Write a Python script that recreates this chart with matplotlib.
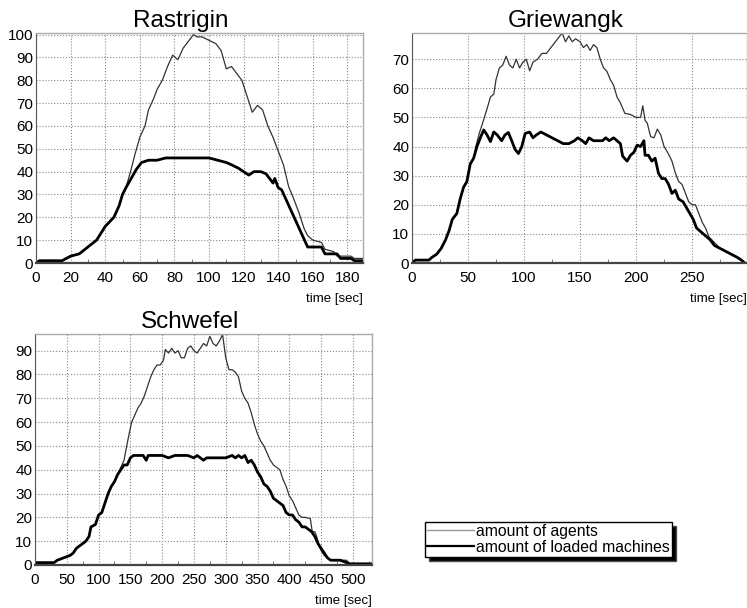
import matplotlib
matplotlib.use('Agg')
import matplotlib.pyplot as plt
from matplotlib.ticker import MultipleLocator

plt.rcParams['font.family'] = ['Liberation Sans', 'DejaVu Sans']

# Rastrigin
ras_t_agents = [0, 2, 15, 20, 25, 30, 35, 40, 45, 48, 50, 52, 55, 57, 60, 63, 65, 68, 70, 73,
                76, 79, 82, 85, 88, 91, 93, 96, 100, 104, 107, 110, 113, 116, 119, 122, 125,
                128, 131, 134, 137, 140, 143, 146, 149, 152, 155, 157, 160, 165, 167, 172,
                174, 182, 184, 189]
ras_agents = [0, 1, 1, 3, 4, 7, 10, 16, 20, 25, 30, 33, 41, 47, 55, 60, 67, 72, 76, 80,
              86, 91, 89, 94, 97, 100, 99, 99, 97.5, 96, 93, 85, 86, 83, 80, 73, 66,
              69, 67, 60, 55, 49, 43, 33.5, 28, 22, 15, 12, 10, 9, 6, 5,
              3, 3, 2, 2]
ras_t_loaded = [0, 2, 15, 20, 25, 30, 35, 40, 45, 48, 50, 52, 55, 58, 61, 65, 70, 75, 80, 85,
                90, 95, 100, 105, 110, 113, 117, 120, 123, 126, 130, 133, 135, 137, 138, 140,
                142, 145, 148, 151, 154, 157, 165, 167, 174, 176, 182, 184, 189]
ras_loaded = [0, 1, 1, 3, 4, 7, 10, 16, 20, 25, 30, 33, 37, 41, 44, 45, 45, 46, 46, 46,
              46, 46, 46, 45, 44, 43, 41.5, 40, 38.5, 40, 40, 39, 37, 35, 37, 33,
              32, 27, 22, 17, 12, 7, 7, 4, 4, 2, 2, 1, 1]

# Griewangk
gri_t_agents = [0, 3, 15, 18, 22, 26, 30, 33, 36, 40, 43, 46, 49, 52, 55, 57, 60, 63, 67, 70,
                73, 75, 78, 81, 84, 87, 90, 93, 96, 99, 102, 105, 108, 112, 116, 120, 124,
                128, 131, 134, 137, 140, 143, 146, 150, 153, 156, 159, 162, 165, 168, 171,
                174, 177, 180, 183, 186, 190, 195, 200, 204, 206, 208, 210, 213, 216, 219,
                222, 225, 229, 232, 235, 238, 241, 244, 247, 250, 253, 256, 259, 262, 265,
                270, 275, 280, 285, 290, 294, 297]
gri_agents = [0, 1, 1, 2, 3, 5, 8, 11, 15, 17, 22, 26, 28, 34, 36, 40, 44.5, 48, 53, 57,
              58, 63, 67, 68, 71, 68, 67, 70, 67, 69, 70, 66, 69, 70, 72, 72, 74,
              76, 77.5, 79, 76, 78, 76, 77, 76, 74, 75, 73, 75, 74, 70, 67,
              65.8, 63, 61, 57, 55, 51.4, 51, 50, 50, 54, 49, 48, 43.4, 43, 46,
              44, 40, 37.4, 35, 31, 28, 27, 24, 21, 20, 20, 17, 14, 12, 9,
              7, 5, 4, 3, 2, 1, 0]
gri_t_loaded = [0, 3, 15, 18, 22, 26, 30, 33, 36, 40, 43, 46, 49, 52, 55, 58, 61, 64, 67, 70,
                73, 76, 80, 83, 86, 89, 92, 95, 98, 101, 105, 108, 111, 115, 120, 125, 130,
                135, 140, 145, 148, 152, 155, 158, 162, 166, 170, 173, 176, 180, 183, 186,
                188, 192, 195, 198, 201, 204, 207, 208, 211, 214, 217, 220, 223, 226, 229,
                232, 235, 238, 242, 245, 248, 251, 254, 257, 260, 263, 266, 270, 275, 280,
                285, 290, 294, 297]
gri_loaded = [0, 1, 1, 2, 3, 5, 8, 11, 15, 17, 22, 26, 28, 34, 36, 40, 43, 45.7, 44, 41.7,
              45, 44, 42, 44, 44.8, 42, 39, 37.6, 40, 44.5, 45, 43, 44, 45, 44, 43, 42,
              41, 41, 42, 43, 42, 41, 43, 42, 42, 42, 43, 42, 43, 42, 41,
              36.7, 35, 37, 38, 40.5, 40, 42, 37, 37, 35, 36, 30.8, 29, 29, 27,
              23.9, 25, 22, 21, 19, 17, 15, 12, 11, 10, 9, 8, 6, 5, 4,
              3, 2, 1, 0]

# Schwefel
sch_t_agents = [0, 30, 35, 45, 55, 60, 65, 70, 75, 80, 85, 88, 95, 100, 105, 110, 115, 120,
                125, 130, 135, 140, 145, 148, 152, 157, 162, 167, 172, 177, 182, 187, 192,
                197, 202, 205, 210, 215, 220, 225, 230, 235, 240, 245, 250, 255, 260, 265,
                270, 275, 280, 285, 290, 295, 300, 305, 310, 315, 320, 325, 330, 335, 340,
                345, 350, 355, 360, 365, 370, 375, 380, 385, 390, 395, 400, 405, 410, 415,
                420, 425, 433, 436, 440, 443, 447, 450, 455, 460, 465, 490, 495, 530]
sch_agents = [1, 1, 2, 3, 4, 5, 7, 8, 9, 10, 12, 16, 17, 21, 22, 26, 30, 33,
              35, 38, 41, 44, 51, 55, 60, 63, 66, 68, 71, 75, 79, 82, 84,
              84, 86, 90.5, 89, 91, 89, 90, 87, 87, 91, 92, 90, 89, 91, 93,
              92, 96, 93, 92, 94, 96.8, 87, 82, 82, 81, 79, 73, 70, 68, 64,
              59, 55, 52, 50, 47, 44, 42, 41, 40, 36, 33, 29, 27, 24, 21,
              20, 20, 19.5, 14, 14, 12, 8, 6, 4, 3, 2, 2, 0.5, 0.5]
sch_t_loaded = [0, 30, 35, 45, 55, 60, 65, 70, 75, 80, 85, 88, 95, 100, 105, 110, 115, 120,
                125, 130, 135, 140, 145, 150, 155, 160, 170, 175, 178, 190, 200, 210, 220,
                230, 240, 250, 255, 260, 265, 270, 280, 290, 300, 310, 315, 320, 325, 330,
                335, 340, 345, 350, 355, 360, 365, 370, 375, 380, 385, 390, 395, 400, 405,
                410, 415, 420, 425, 430, 435, 440, 445, 450, 455, 460, 465, 480, 490, 495, 530]
sch_loaded = [1, 1, 2, 3, 4, 5, 7, 8, 9, 10, 12, 16, 17, 21, 22, 26, 30, 33,
              35, 38, 40, 42, 42, 45, 46, 46, 46, 44, 46, 46, 46, 45, 46,
              46, 46, 45, 46, 45, 44, 45, 45, 45, 45, 46, 45, 46, 45, 46,
              43, 44, 42, 39, 37, 34, 33, 31, 28, 27, 26, 25, 22, 21, 21,
              19, 18, 16, 16, 15, 14, 12, 9, 7, 5, 3, 2, 2, 1, 0.5, 0.5]

titles = ['Rastrigin', 'Griewangk', 'Schwefel']
legend_labels = ['amount of agents', 'amount of loaded machines']

W, H = 747.0, 608.0


def px_axes(fig, left, top, right, bottom):
    return fig.add_axes([left / W, 1 - bottom / H, (right - left) / W, (bottom - top) / H])


def style(ax, xlim, ylim, xstep, ystep):
    ax.set_xlim(*xlim)
    ax.set_ylim(*ylim)
    ax.xaxis.set_major_locator(MultipleLocator(xstep))
    ax.xaxis.set_minor_locator(MultipleLocator(xstep / 2))
    ax.yaxis.set_major_locator(MultipleLocator(ystep))
    ax.grid(True, which='major', linestyle=':', color='#888888', linewidth=0.8)
    ax.tick_params(axis='both', which='major', length=0, labelsize=11)
    ax.tick_params(axis='x', which='major', pad=6)
    ax.tick_params(axis='y', which='major', pad=2)
    ax.tick_params(axis='x', which='minor', direction='in', length=3, color='#666666')
    ax.tick_params(axis='y', which='minor', length=0)
    for side in ['top', 'right']:
        ax.spines[side].set_color('#aaaaaa')
        ax.spines[side].set_linewidth(1.0)
    ax.spines['left'].set_color('#555555')
    ax.spines['bottom'].set_color('#444444')
    ax.spines['bottom'].set_linewidth(1.6)
    ax.text(1.0, -0.13, 'time [sec]', transform=ax.transAxes, ha='right', va='top',
            fontsize=9.5)


fig = plt.figure(figsize=(W / 100, H / 100), dpi=100)

ax1 = px_axes(fig, 36, 33, 363, 263)
ax2 = px_axes(fig, 412, 33, 747, 263)
ax3 = px_axes(fig, 35, 334, 372, 565)

panels = [
    (ax1, ras_t_agents, ras_agents, ras_t_loaded, ras_loaded, (0, 189), (0, 100.7), 20, 10, 0.443),
    (ax2, gri_t_agents, gri_agents, gri_t_loaded, gri_loaded, (0, 299), (0, 79), 50, 10, 0.46),
    (ax3, sch_t_agents, sch_agents, sch_t_loaded, sch_loaded, (0, 530), (0, 97), 50, 10, 0.46),
]

for (ax, ta, a, tl, l, xl, yl, xs, ys, tx), title in zip(panels, titles):
    ax.plot(ta, a, color='#333333', linewidth=0.9, label=legend_labels[0])
    ax.plot(tl, l, color='black', linewidth=2.0, label=legend_labels[1])
    style(ax, xl, yl, xs, ys)
    ax.set_title(title, fontsize=17.5, pad=4, x=tx)

handles = [plt.Line2D([], [], color='#999999', linewidth=1.0),
           plt.Line2D([], [], color='black', linewidth=1.6)]
leg = fig.legend(handles, legend_labels, loc='lower left',
                 bbox_to_anchor=(425 / W, 1 - 557 / H), fontsize=11.3,
                 frameon=True, fancybox=False, edgecolor='black',
                 shadow={'ox': 3, 'oy': -3, 'facecolor': 'black', 'alpha': 1},
                 borderpad=0.15, labelspacing=0.05, handlelength=3.0,
                 handletextpad=0.1, borderaxespad=0)
leg.get_frame().set_linewidth(1.0)

fig.savefig('out.png', dpi=100)
